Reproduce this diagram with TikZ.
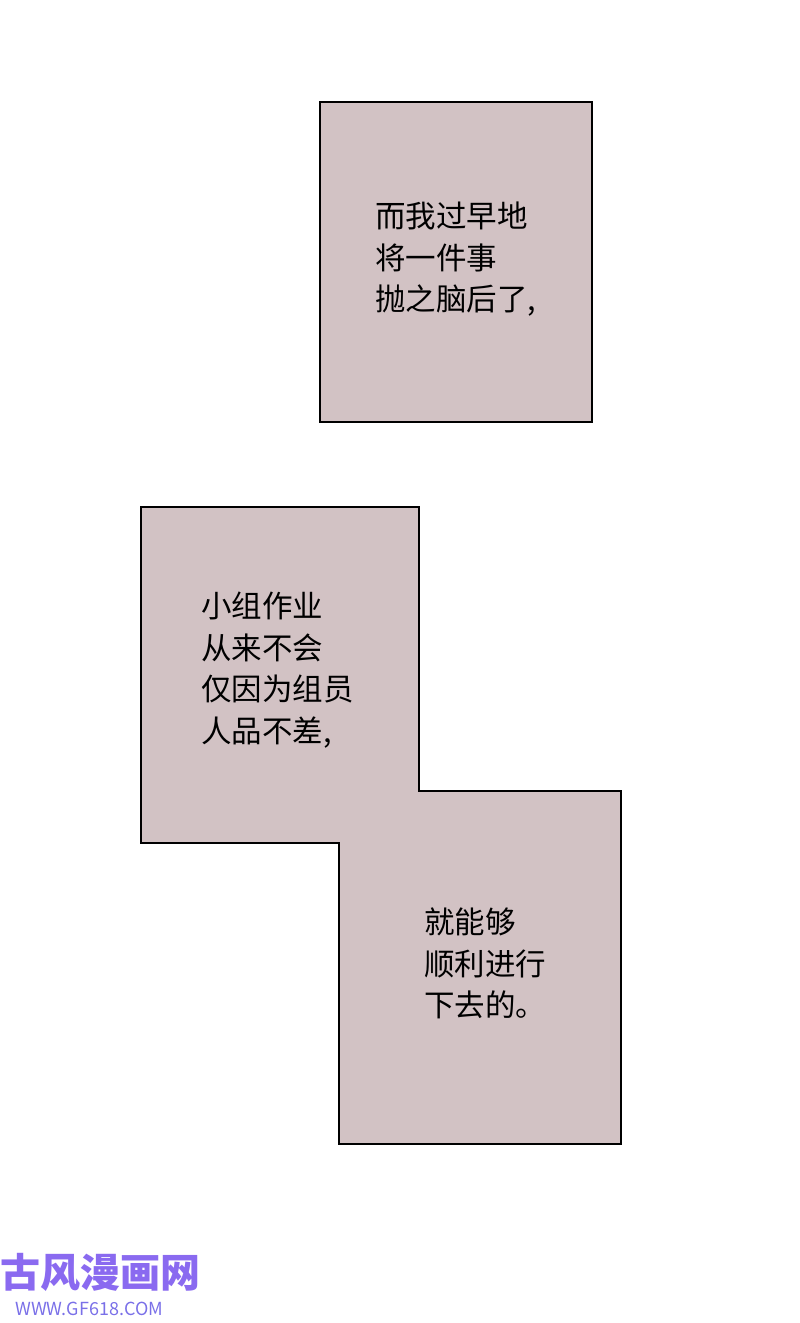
\documentclass[tikz,border=0pt]{standalone}
\usepackage{fontspec}
\newfontfamily\cjk{Noto Sans CJK SC}
\definecolor{paper}{HTML}{D2C2C4}
\definecolor{wm}{HTML}{8A6AF0}
\definecolor{wmurl}{HTML}{7A70E8}
\begin{document}
\begin{tikzpicture}[x=1pt,y=-1pt,
  panel/.style={fill=paper,draw=black,line width=2.2pt},
  txt/.style={anchor=north west,align=left,font=\cjk\fontsize{30.5}{41.5}\selectfont,inner sep=0pt}]
\useasboundingbox (0,0) rectangle (800,1323);
\draw[panel] (320,102) rectangle (592,422);
\draw[panel] (141,507) -- (419,507) -- (419,791) -- (621,791) -- (621,1144) -- (339,1144) -- (339,843) -- (141,843) -- cycle;
\node[txt] (t1) at (375,202) {而我过早地\\将一件事\\抛之脑后了,};
\node[txt] (t2) at (201,592) {小组作业\\从来不会\\仅因为组员\\人品不差,};
\node[txt] (t3) at (424,908) {就能够\\顺利进行\\下去的。};
\node[anchor=west,inner sep=0pt,font=\cjk\bfseries\fontsize{40}{40}\selectfont,text=wm] (w1) at (0,1272) {古风漫画网};
\node[anchor=west,inner sep=0pt,font=\cjk\fontsize{18}{18}\selectfont,text=wmurl] (w2) at (15,1309) {WWW.GF618.COM};
\end{tikzpicture}
\end{document}
